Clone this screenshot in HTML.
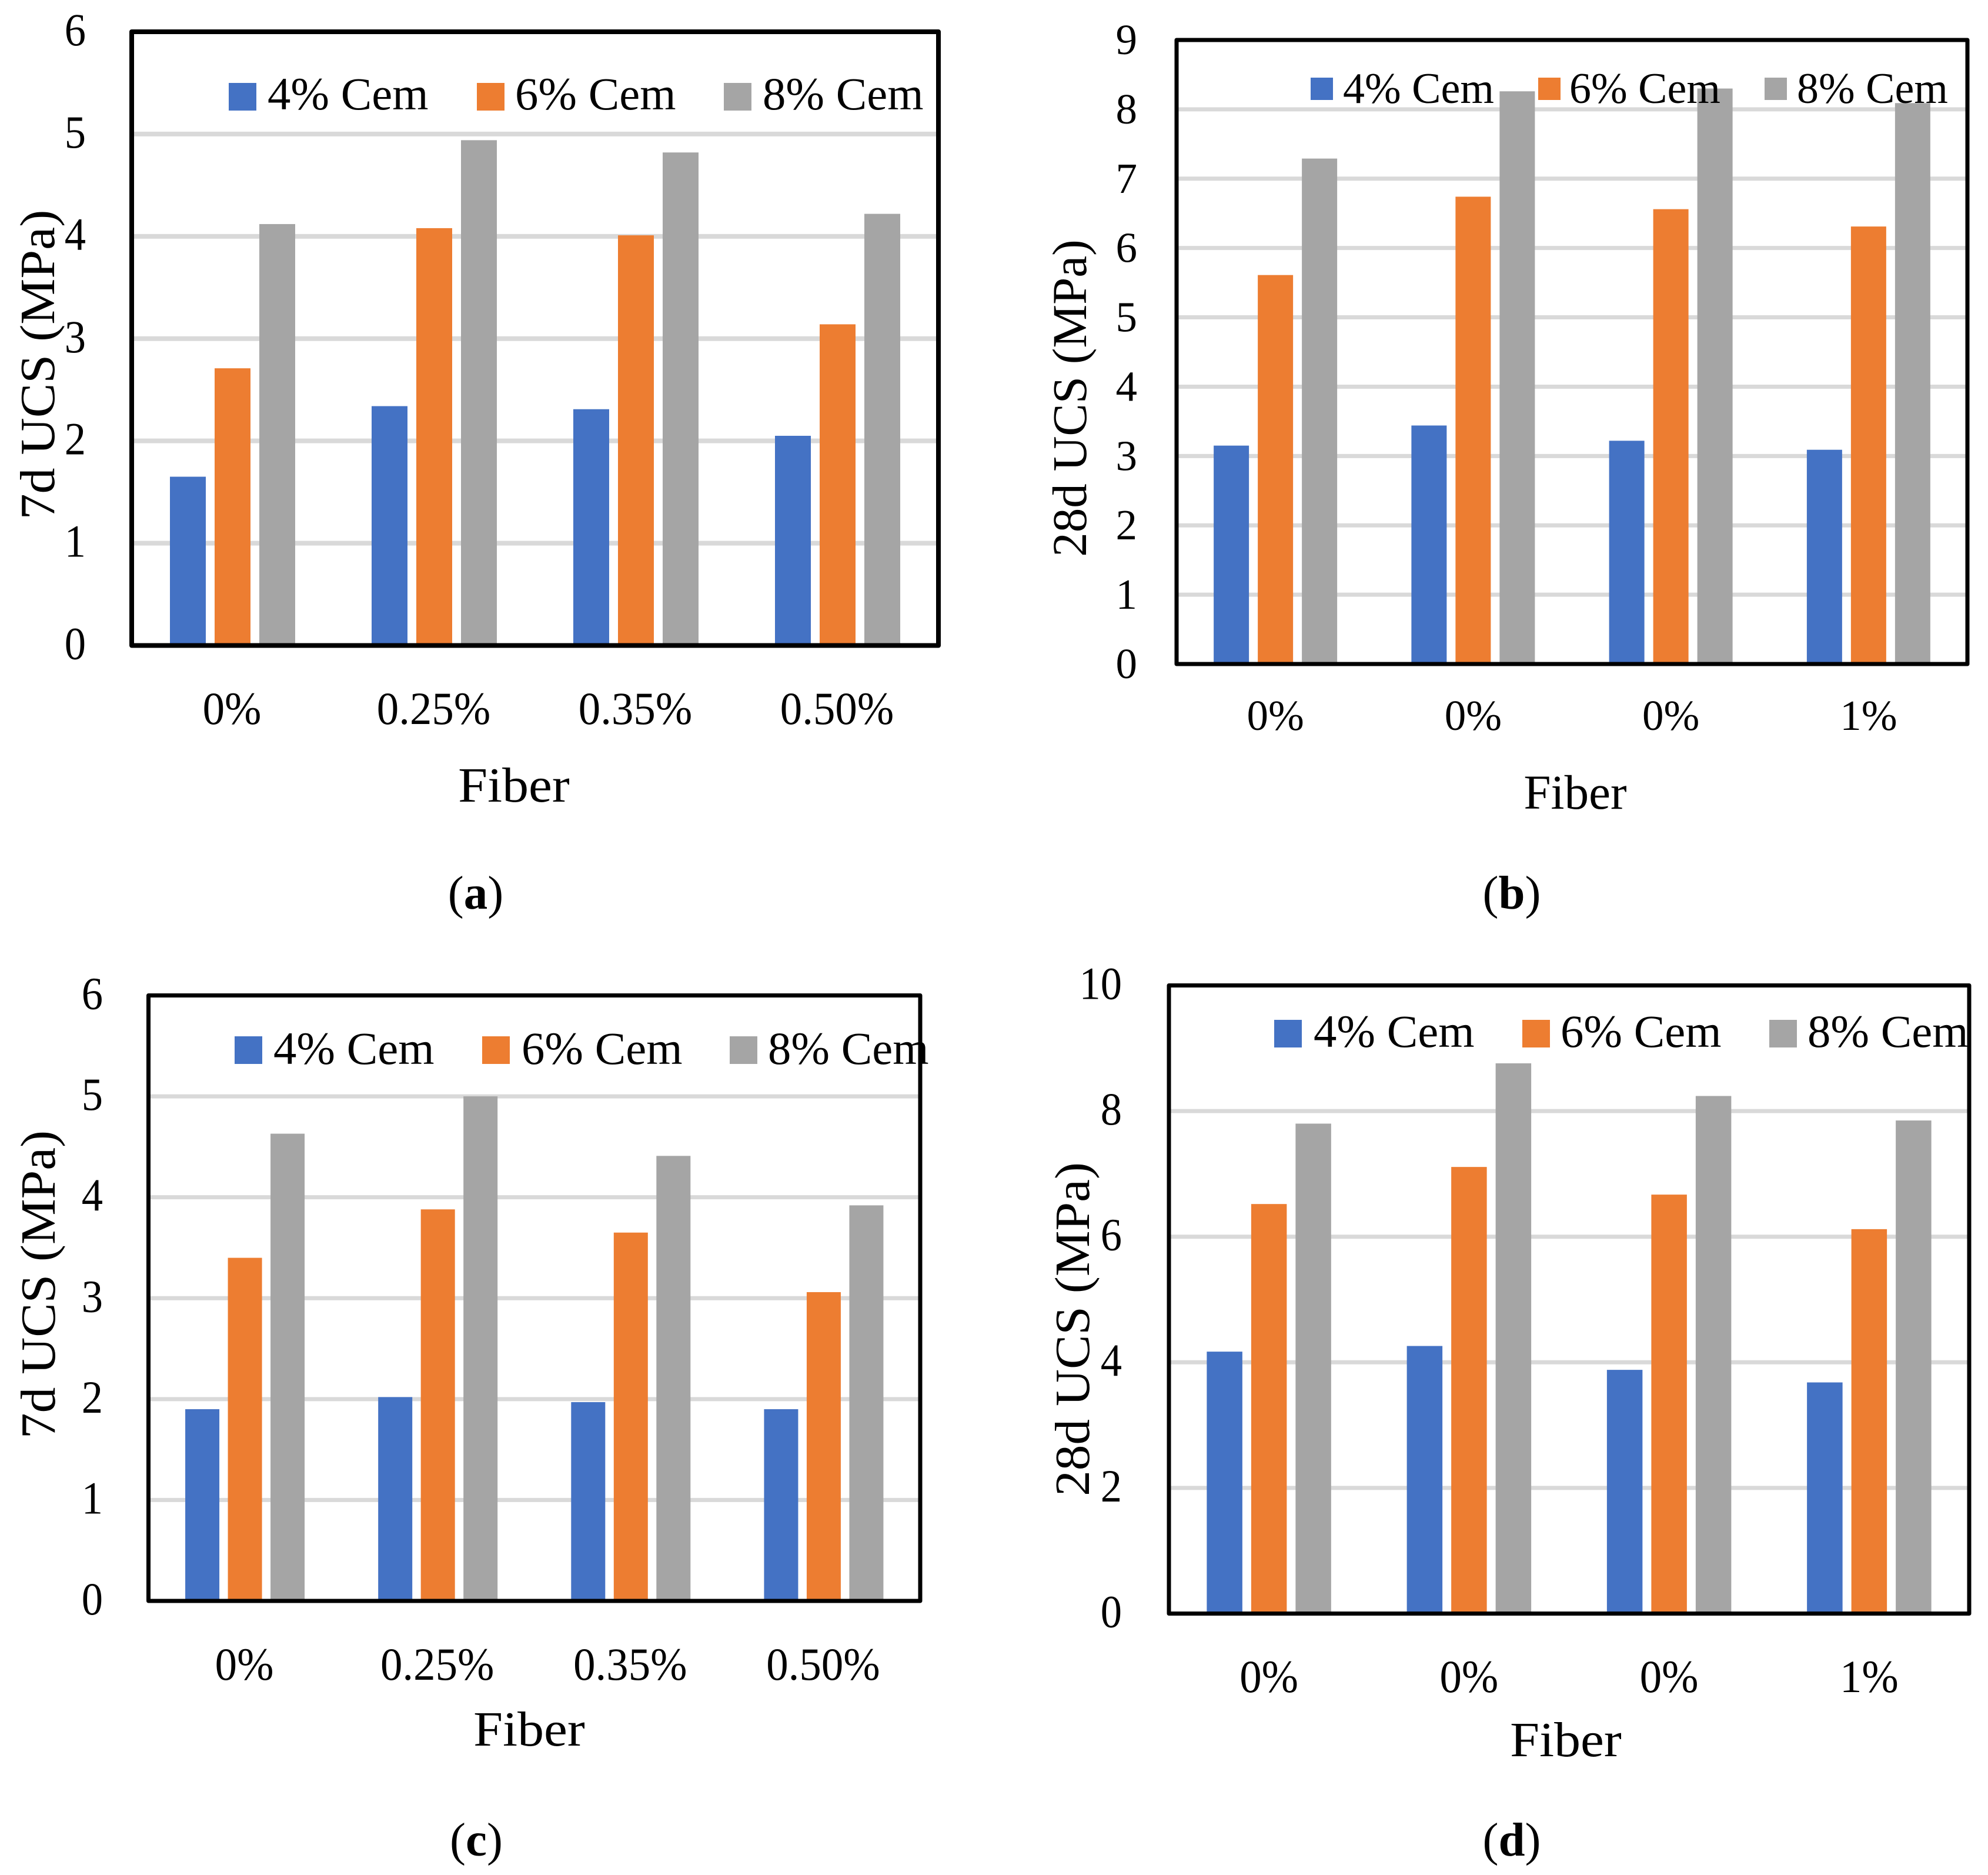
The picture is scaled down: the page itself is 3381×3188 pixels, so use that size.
<!DOCTYPE html>
<html lang="en">
<head>
<meta charset="utf-8">
<title>UCS versus fiber content</title>
<style>
html,body{margin:0;padding:0;background:#fff;}
svg{display:block;}
text{font-family:"Liberation Serif",serif;fill:#000;}
</style>
</head>
<body>
<svg id="figure" xmlns="http://www.w3.org/2000/svg" width="3381" height="3188" viewBox="0 0 3381 3188">
<rect width="3381" height="3188" fill="#ffffff"/>
</svg>
<script>
const seriesNames = ['4% Cem', '6% Cem', '8% Cem'];
const seriesColors = ['#4472c4', '#ed7d31', '#a5a5a5'];

const categoriesA = ['0%', '0.25%', '0.35%', '0.50%'];
const ticksA = ['0', '1', '2', '3', '4', '5', '6'];
const cem4A = [1.65, 2.34, 2.31, 2.05];
const cem6A = [2.71, 4.08, 4.01, 3.14];
const cem8A = [4.12, 4.94, 4.82, 4.22];

const categoriesB = ['0%', '0%', '0%', '1%'];
const ticksB = ['0', '1', '2', '3', '4', '5', '6', '7', '8', '9'];
const cem4B = [3.15, 3.44, 3.22, 3.09];
const cem6B = [5.61, 6.74, 6.56, 6.31];
const cem8B = [7.29, 8.26, 8.30, 8.09];

const categoriesC = ['0%', '0.25%', '0.35%', '0.50%'];
const ticksC = ['0', '1', '2', '3', '4', '5', '6'];
const cem4C = [1.90, 2.02, 1.97, 1.90];
const cem6C = [3.40, 3.88, 3.65, 3.06];
const cem8C = [4.63, 5.00, 4.41, 3.92];

const categoriesD = ['0%', '0%', '0%', '1%'];
const ticksD = ['0', '2', '4', '6', '8', '10'];
const cem4D = [4.17, 4.26, 3.88, 3.68];
const cem6D = [6.52, 7.11, 6.67, 6.12];
const cem8D = [7.80, 8.76, 8.24, 7.85];

const svg = document.getElementById('figure');
const NS = 'http://www.w3.org/2000/svg';

function makeShape(tag, parent) {
  const el = document.createElementNS(NS, tag);
  parent.appendChild(el);
  return el;
}

function makeText(parent, str, x, y, size, anchor, factor, weight) {
  const el = makeShape('text', parent);
  el.textContent = str;
  el.setAttribute('x', x);
  el.setAttribute('y', y);
  el.setAttribute('font-size', size);
  el.setAttribute('text-anchor', anchor);
  if (weight) el.setAttribute('font-weight', weight);
  if (factor !== 1) {
    const natural = el.getComputedTextLength();
    el.setAttribute('textLength', natural * factor);
    el.setAttribute('lengthAdjust', 'spacingAndGlyphs');
  }
  return el;
}

function renderChart(p) {
  const g = makeShape('g', svg);
  
  

  const maxTick = Number(p.ticks[p.ticks.length - 1]);
  const yScale = function (v) { return p.bottom - (v / maxTick) * (p.bottom - p.top); };
  const band = (p.right - p.left) / p.categories.length;
  const xCenter = function (i) { return p.left + band * (i + 0.5); };

  p.ticks.forEach(function (t) {
    const v = Number(t);
    if (v !== 0 && v !== maxTick) {
      const line = makeShape('line', g);
      line.setAttribute('x1', p.left);
      line.setAttribute('x2', p.right);
      line.setAttribute('y1', yScale(v));
      line.setAttribute('y2', yScale(v));
      line.setAttribute('stroke', '#d9d9d9');
      line.setAttribute('stroke-width', p.gridWidth);
      
      
    }
    const label = makeText(g, t, p.tickRight, yScale(v) + p.tickShift, p.tickSize, 'end', p.tickFactor);
    
    
  });

  p.series.forEach(function (values, s) {
    values.forEach(function (v, i) {
      const bar = makeShape('rect', g);
      const x = xCenter(i) + (s - 1) * (p.barWidth + p.barGap) - p.barWidth / 2;
      bar.setAttribute('x', x);
      bar.setAttribute('y', yScale(v));
      bar.setAttribute('width', p.barWidth);
      bar.setAttribute('height', p.bottom - yScale(v));
      bar.setAttribute('fill', seriesColors[s]);
      
      
    });
  });

  const frame = makeShape('rect', g);
  frame.setAttribute('x', p.left);
  frame.setAttribute('y', p.top);
  frame.setAttribute('width', p.right - p.left);
  frame.setAttribute('height', p.bottom - p.top);
  frame.setAttribute('fill', 'none');
  frame.setAttribute('stroke', '#000');
  frame.setAttribute('stroke-width', p.frameWidth);
  frame.setAttribute('stroke-linejoin', 'round');
  
  

  p.categories.forEach(function (c, i) {
    const label = makeText(g, c, xCenter(i) + p.catShift, p.catBaseline, p.tickSize, 'middle', p.catFactor);
    
    
  });

  const xTitle = makeText(g, 'Fiber', p.fiberX, p.fiberY, p.titleSize, 'middle', p.fiberFactor);
  
  

  const yTitle = makeText(g, p.yTitle, 0, 0, p.titleSize, 'middle', p.yTitleFactor);
  yTitle.setAttribute('transform', 'translate(' + p.yTitleX + ' ' + p.yTitleY + ') rotate(-90)');
  
  

  seriesNames.forEach(function (name, s) {
    const swatch = makeShape('rect', g);
    swatch.setAttribute('x', p.legendSwatchX[s]);
    swatch.setAttribute('y', p.legendY);
    swatch.setAttribute('width', p.legendSwatch);
    swatch.setAttribute('height', p.legendSwatch);
    swatch.setAttribute('fill', seriesColors[s]);
    
    
    const label = makeText(g, name, p.legendTextX[s], p.legendBaseline, p.legendSize, 'start', p.legendFactor);
    
    
  });

  const caption = makeShape('text', g);
  caption.setAttribute('x', p.captionX);
  caption.setAttribute('y', p.captionY);
  caption.setAttribute('font-size', 81);
  caption.setAttribute('text-anchor', 'middle');
  
  
  caption.appendChild(document.createTextNode('('));
  const letter = makeShape('tspan', caption);
  letter.setAttribute('font-weight', 'bold');
  letter.textContent = p.id;
  caption.appendChild(document.createTextNode(')'));
}

renderChart({
  id: 'a', categories: categoriesA, ticks: ticksA, series: [cem4A, cem6A, cem8A],
  left: 224, right: 1596, top: 54, bottom: 1097.5,
  frameWidth: 8, gridWidth: 8, barWidth: 61, barGap: 15,
  tickRight: 146, tickShift: 23, tickSize: 78, tickFactor: 0.93, catBaseline: 1231, catFactor: 0.96, catShift: -1,
  titleSize: 84, yTitle: '7d UCS (MPa)', yTitleX: 92, yTitleY: 620, yTitleFactor: 1.045,
  fiberX: 874, fiberY: 1363, fiberFactor: 1.07,
  legendSwatchX: [389, 811, 1231], legendTextX: [455, 876, 1297], legendY: 141, legendSwatch: 47,
  legendBaseline: 186, legendSize: 78, legendFactor: 1.01,
  captionX: 809, captionY: 1545
});

renderChart({
  id: 'b', categories: categoriesB, ticks: ticksB, series: [cem4B, cem6B, cem8B],
  left: 2001, right: 3346, top: 68, bottom: 1129,
  frameWidth: 7, gridWidth: 7, barWidth: 60, barGap: 15,
  tickRight: 1934, tickShift: 24, tickSize: 73, tickFactor: 1, catBaseline: 1241, catFactor: 1, catShift: 0,
  titleSize: 83, yTitle: '28d UCS (MPa)', yTitleX: 1847, yTitleY: 677, yTitleFactor: 1,
  fiberX: 2679, fiberY: 1375, fiberFactor: 1,
  legendSwatchX: [2229, 2616, 3001], legendTextX: [2284, 2669, 3056], legendY: 132, legendSwatch: 38,
  legendBaseline: 175, legendSize: 74, legendFactor: 1,
  captionX: 2571, captionY: 1545
});

renderChart({
  id: 'c', categories: categoriesC, ticks: ticksC, series: [cem4C, cem6C, cem8C],
  left: 252.5, right: 1565, top: 1692.5, bottom: 2722,
  frameWidth: 7, gridWidth: 7, barWidth: 58, barGap: 14.5,
  tickRight: 175, tickShift: 23, tickSize: 78, tickFactor: 0.93, catBaseline: 2856, catFactor: 0.96, catShift: -1,
  titleSize: 84, yTitle: '7d UCS (MPa)', yTitleX: 93, yTitleY: 2184, yTitleFactor: 1.04,
  fiberX: 900, fiberY: 2968, fiberFactor: 1.07,
  legendSwatchX: [399, 820, 1241], legendTextX: [465, 887, 1306], legendY: 1762, legendSwatch: 47,
  legendBaseline: 1809, legendSize: 78, legendFactor: 1.01,
  captionX: 810, captionY: 3155
});

renderChart({
  id: 'd', categories: categoriesD, ticks: ticksD, series: [cem4D, cem6D, cem8D],
  left: 1988, right: 3349, top: 1675.5, bottom: 2743.5,
  frameWidth: 7, gridWidth: 7, barWidth: 60.5, barGap: 15,
  tickRight: 1908, tickShift: 23, tickSize: 78, tickFactor: 0.93, catBaseline: 2877, catFactor: 0.96, catShift: 0,
  titleSize: 84, yTitle: '28d UCS (MPa)', yTitleX: 1852, yTitleY: 2260, yTitleFactor: 1.04,
  fiberX: 2663, fiberY: 2986, fiberFactor: 1.07,
  legendSwatchX: [2167, 2589, 3009], legendTextX: [2234, 2654, 3074], legendY: 1734, legendSwatch: 47,
  legendBaseline: 1780, legendSize: 78, legendFactor: 1.01,
  captionX: 2571, captionY: 3155
});
</script>
</body>
</html>
